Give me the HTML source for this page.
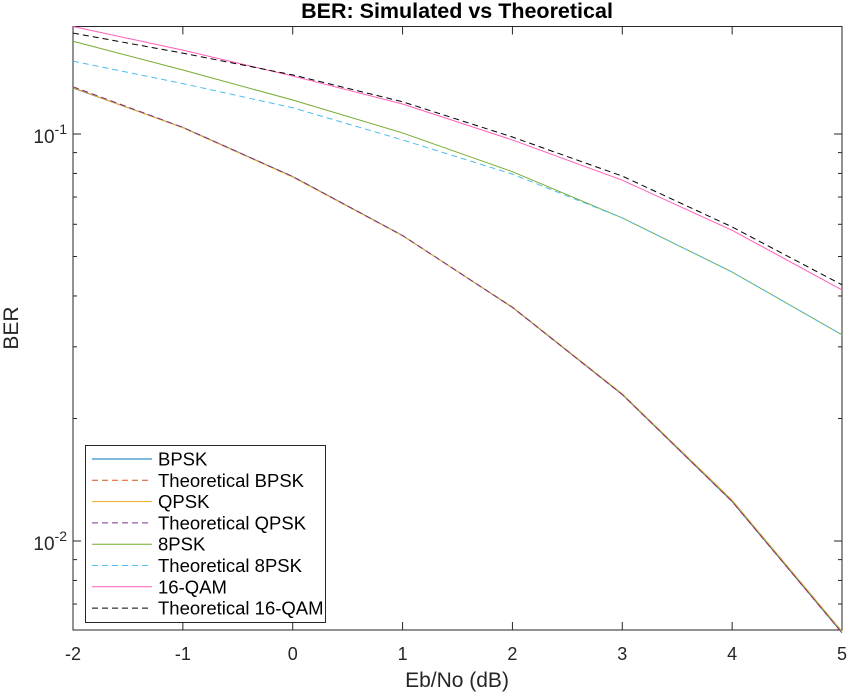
<!DOCTYPE html>
<html><head><meta charset="utf-8"><style>
body{margin:0;background:#fff;width:850px;height:693px;overflow:hidden;font-family:"Liberation Sans",sans-serif}
svg{display:block}
</style></head><body>
<svg id="chart" width="850" height="693" xmlns="http://www.w3.org/2000/svg"></svg>
<script>
const xVals = [-2,-1,0,1,2,3,4,5];
const bpsk = [0.1297,0.1038,0.0786,0.0563,0.0375,0.0229,0.0125,0.00595];
const theoBpsk = [0.1306,0.1038,0.0786,0.0563,0.0375,0.0229,0.0125,0.00595];
const qpsk = [0.1300,0.1036,0.0784,0.0562,0.0376,0.0230,0.0126,0.00600];
const theoQpsk = [0.1306,0.1038,0.0786,0.0563,0.0375,0.0229,0.0125,0.00595];
const psk8 = [0.169,0.1436,0.1212,0.1006,0.0808,0.0622,0.0458,0.0321];
const theoPsk8 = [0.151,0.133,0.116,0.0967,0.0797,0.0622,0.0458,0.0321];
const qam16 = [0.1837,0.1607,0.1388,0.1185,0.0967,0.077,0.058,0.0414];
const theoQam16 = [0.177,0.158,0.1397,0.120,0.0983,0.0788,0.0591,0.0426];
const xTicks = [-2,-1,0,1,2,3,4,5];
const seriesNames = ["BPSK","Theoretical BPSK","QPSK","Theoretical QPSK","8PSK","Theoretical 8PSK","16-QAM","Theoretical 16-QAM"];

const L=73,R=842,T=26.5,B=630;
const xmin=-2,xmax=5;
const yLogTop=-1+(134-T)/407, yLogBot=-2-(B-541)/407;
const sx=v=>L+(v-xmin)/(xmax-xmin)*(R-L);
const sy=v=>T+(yLogTop-Math.log10(v))/(yLogTop-yLogBot)*(B-T);
const NS="http://www.w3.org/2000/svg";
const svg=document.getElementById('chart');
function mk(tag,attrs,parent){const e=document.createElementNS(NS,tag);for(const k in attrs)e.setAttribute(k,attrs[k]);(parent||svg).appendChild(e);return e;}

const series=[
 {d:bpsk,c:"#0072bd",dash:null,n:"series-bpsk"},
 {d:theoBpsk,c:"#d95319",dash:"6 4",n:"series-theoretical-bpsk"},
 {d:qpsk,c:"#edb120",dash:null,n:"series-qpsk"},
 {d:theoQpsk,c:"#7e2f8e",dash:"6 4",n:"series-theoretical-qpsk"},
 {d:psk8,c:"#77ac30",dash:null,n:"series-8psk"},
 {d:theoPsk8,c:"#4dbeee",dash:"6 4",n:"series-theoretical-8psk"},
 {d:qam16,c:"#ff5cb8",dash:null,n:"series-16qam"},
 {d:theoQam16,c:"#000000",dash:"6 4",n:"series-theoretical-16qam"}
];

const box=mk('rect',{x:L,y:T,width:R-L,height:B-T,fill:'none',stroke:'#262626','stroke-width':1});



xTicks.forEach(t=>{
 const x=sx(t);
 mk('line',{x1:x,x2:x,y1:B,y2:B-8,stroke:'#262626'});
 mk('line',{x1:x,x2:x,y1:T,y2:T+8,stroke:'#262626'});
 const tx=mk('text',{x:x,y:660,'text-anchor':'middle','font-size':18,fill:'#262626'});
 tx.textContent=String(t);
 
 
});
for(let dec=-3;dec<=0;dec++){
 for(let m=1;m<10;m++){
  const v=m*Math.pow(10,dec);
  const y=sy(v);
  if(y<T||y>B)continue;
  const len=m===1?8:4;
  mk('line',{x1:L,x2:L+len,y1:y,y2:y,stroke:'#262626'});
  mk('line',{x1:R,x2:R-len,y1:y,y2:y,stroke:'#262626'});
  if(m===1){
   const tx=mk('text',{x:L-6,y:y+9,'text-anchor':'end','font-size':19,fill:'#262626'});
   tx.innerHTML='10<tspan dy="-9" font-size="14">'+dec+'</tspan>';
   
   
  }
 }
}

series.forEach(s=>{
 const pts=xVals.map((x,i)=>sx(x).toFixed(2)+','+sy(s.d[i]).toFixed(2)).join(' ');
 const a={points:pts,fill:'none',stroke:s.c,'stroke-width':1};
 if(s.dash)a['stroke-dasharray']=s.dash;
 const p=mk('polyline',a);
 
 
});

const title=mk('text',{x:457,y:18,'text-anchor':'middle','font-size':21.5,'font-weight':'bold',fill:'#000'});
title.textContent='BER: Simulated vs Theoretical';


const xl=mk('text',{x:457,y:687,'text-anchor':'middle','font-size':21,fill:'#262626'});
xl.textContent='Eb/No (dB)';


const yl=mk('text',{x:0,y:0,'text-anchor':'middle','font-size':21,fill:'#262626',transform:'translate(18,328) rotate(-90)'});
yl.textContent='BER';



const lg=mk('g',{});


mk('rect',{x:85.5,y:445.5,width:240,height:177,fill:'#fff',stroke:'#262626'},lg);
series.forEach((s,i)=>{
 const y=459+i*21.3;
 const a={x1:92,x2:152,y1:y,y2:y,stroke:s.c,'stroke-width':1};
 if(s.dash)a['stroke-dasharray']=s.dash;
 mk('line',a,lg);
 const t=mk('text',{x:158,y:y+6.5,'font-size':18.5,fill:'#000'},lg);
 t.textContent=seriesNames[i];
 
 
});
</script>
</body></html>
